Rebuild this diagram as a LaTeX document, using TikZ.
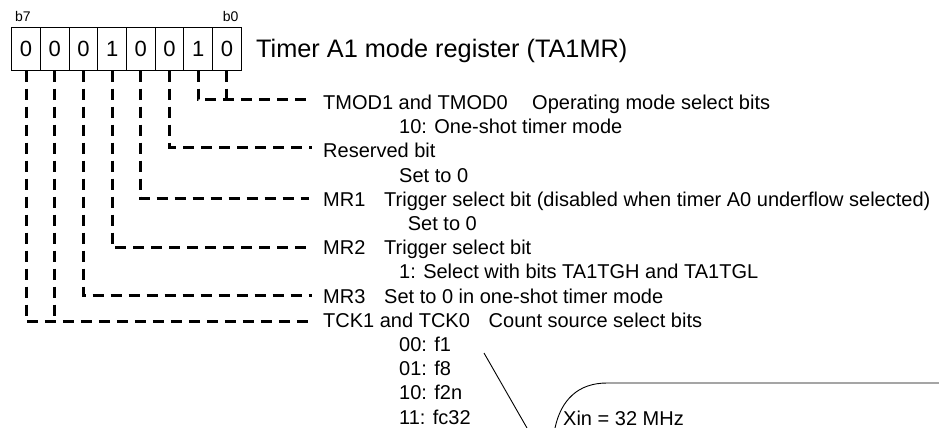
\documentclass[tikz,border=0pt]{standalone}
\usepackage{fontspec}
\setmainfont{Liberation Sans}
\begin{document}
\begin{tikzpicture}[x=1pt,y=-1pt,
  cell/.style={draw, line width=1pt, minimum width=28.7pt, minimum height=42.3pt, inner sep=0pt, font=\fontsize{22}{24}\selectfont},
  lbl/.style={anchor=base west, inner sep=0pt, font=\fontsize{20}{24}\selectfont},
  ttl/.style={anchor=base west, inner sep=0pt, font=\fontsize{25.3}{30}\selectfont},
  bitlbl/.style={anchor=base west, inner sep=0pt, font=\fontsize{14}{16}\selectfont},
  dl/.style={line width=3pt, dash pattern=on 11pt off 7pt},
  thinline/.style={line width=0.9pt}]
\useasboundingbox (0,0) rectangle (939,428);
% register cells
\node[cell] (c7) at (26.05,48.85) {0};
\node[cell] (c6) at (54.75,48.85) {0};
\node[cell] (c5) at (83.45,48.85) {0};
\node[cell] (c4) at (112.15,48.85) {1};
\node[cell] (c3) at (140.85,48.85) {0};
\node[cell] (c2) at (169.55,48.85) {0};
\node[cell] (c1) at (198.25,48.85) {1};
\node[cell] (c0) at (226.95,48.85) {0};
\node[bitlbl] (lb7) at (15,21.5) {b7};
\node[bitlbl] (lb0) at (222.7,21.5) {b0};
\node[ttl] (title) at (256,57) {Timer A1 mode register (TA1MR)};
% texts
\node[lbl] (t0) at (323,109.5) {TMOD1 and TMOD0};
\node[lbl] (t0b) at (532,109.5) {Operating mode select bits};
\node[lbl] (t1) at (399,133.7) {10: One-shot timer mode};
\node[lbl] (t2) at (323,157.9) {Reserved bit};
\node[lbl] (t3) at (399,182.1) {Set to 0};
\node[lbl] (t4) at (323,206.3) {MR1};
\node[lbl] (t4b) at (384,206.3) {Trigger select bit (disabled when timer A0 underflow selected)};
\node[lbl] (t5) at (407.7,230.5) {Set to 0};
\node[lbl] (t6) at (323,254.7) {MR2};
\node[lbl] (t6b) at (384,254.7) {Trigger select bit};
\node[lbl] (t7) at (399,278.9) {1: Select with bits TA1TGH and TA1TGL};
\node[lbl] (t8) at (323,303.1) {MR3};
\node[lbl] (t8b) at (384,303.1) {Set to 0 in one-shot timer mode};
\node[lbl] (t9) at (323,327.3) {TCK1 and TCK0};
\node[lbl] (t9b) at (488.5,327.3) {Count source select bits};
\node[lbl] (t10) at (399,351.5) {00: f1};
\node[lbl] (t11) at (399,375.7) {01: f8};
\node[lbl] (t12) at (399,399.9) {10: f2n};
\node[lbl] (t13) at (399,424.1) {11: fc32};
\node[lbl] (xin) at (563,425.5) {Xin = 32 MHz};
% leader ends
\coordinate (e0) at (310,99.5);
\coordinate (e2) at (312,147);
\coordinate (e3) at (309,198.7);
\coordinate (e4) at (309,247.3);
\coordinate (e5) at (312,295.3);
\coordinate (e6) at (312,321.7);
% dashed leaders
\draw[dl] (c1.south) |- (e0);
\draw[dl] (c0.south) -- (c0.south |- e0);
\draw[dl] (c2.south) |- (e2);
\draw[dl] (c3.south) |- (e3);
\draw[dl] (c4.south) |- (e4);
\draw[dl] (c5.south) |- (e5);
\draw[dl] (c7.south) |- (e6);
\draw[dl] (c6.south) -- (c6.south |- e6);
% callout
\coordinate (la) at (484,353);
\coordinate (lb) at (527,428);
\draw[thinline] (la) -- (lb);
\coordinate (ca) at (555,428);
\coordinate (cb) at (607,383);
\coordinate (cc) at (939,383);
\draw[thinline] (ca) .. controls (561,400) and (578,383) .. (cb) -- (cc);
\end{tikzpicture}
\end{document}
